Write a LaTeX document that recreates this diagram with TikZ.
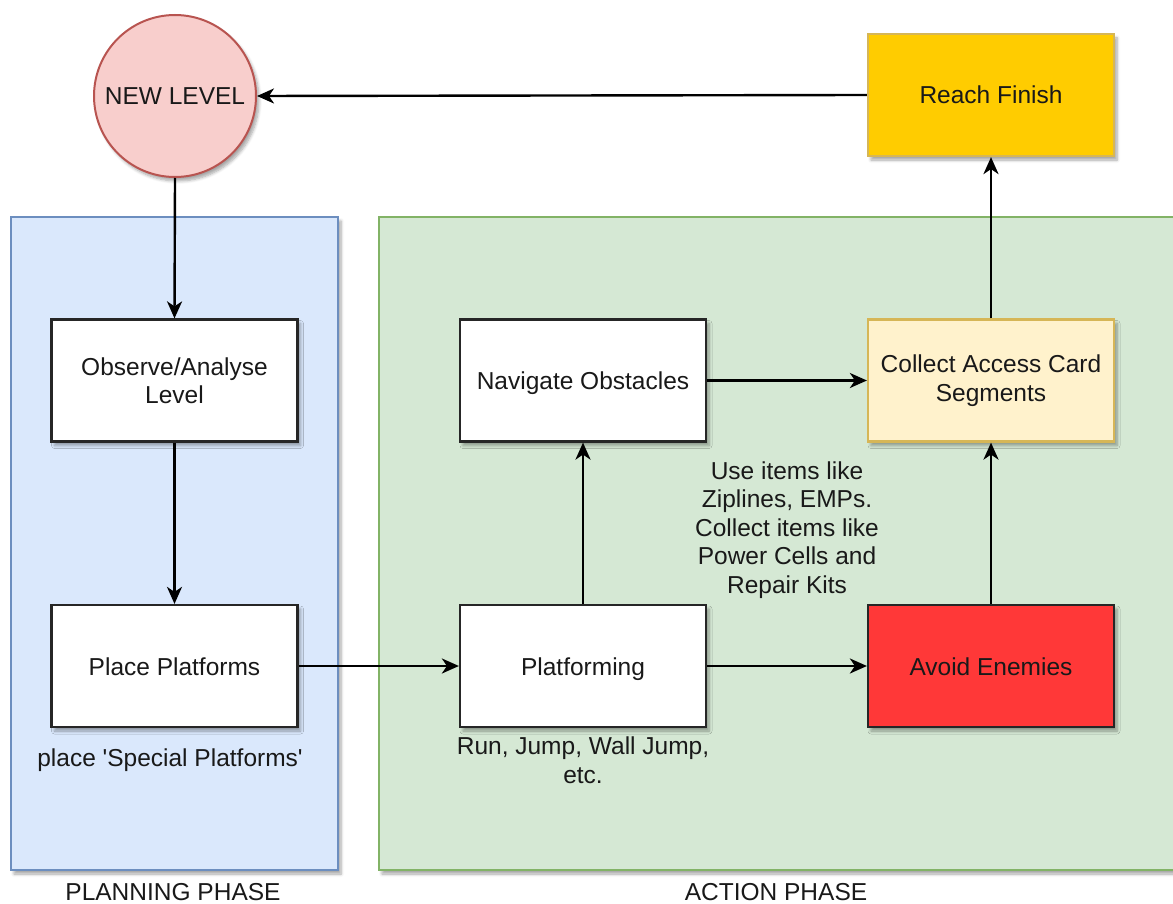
\documentclass[tikz,border=0pt]{standalone}
\usepackage{fontspec}
\setmainfont{Liberation Sans}
% same face without the TeX quote mapping, for straight apostrophes
\newfontfamily\straightquote{Liberation Sans}
\usetikzlibrary{arrows.meta,shadows.blur}

\definecolor{planfill}{HTML}{DAE8FC}
\definecolor{planline}{HTML}{6C8EBF}
\definecolor{actfill}{HTML}{D5E8D4}
\definecolor{actline}{HTML}{82B366}
\definecolor{startfill}{HTML}{F8CECC}
\definecolor{startline}{HTML}{B85450}
\definecolor{goldfill}{HTML}{FFCC00}
\definecolor{goldline}{HTML}{D6B656}
\definecolor{cardfill}{HTML}{FFF2CC}
\definecolor{enemyfill}{HTML}{FF3838}

\tikzset{
  shade/.style={blur shadow={shadow xshift=3pt, shadow yshift=-4pt,
      shadow opacity=35, shadow blur steps=6, shadow blur radius=3pt}},
  txt/.style={font=\fontsize{24.5}{28.5}\selectfont, align=center, text=black!90},
  oneline/.style={text height=18pt, text depth=0pt},
  stepbox/.style={txt, draw=black!85, line width=2.2pt, fill=white,
      minimum width=246pt, minimum height=122pt, inner sep=0pt, shade},
  region/.style={line width=2pt, shade},
  flow/.style={line width=2.4pt, draw=black,
      -{Stealth[length=17pt,width=15pt,inset=5pt]}},
}

\begin{document}
\begin{tikzpicture}[x=1pt,y=-1pt]
  \useasboundingbox (0,0) rectangle (1173,904);
  \clip (0,0) rectangle (1173,904);

  % phase backgrounds
  \draw[region, fill=planfill, draw=planline] (11,217) rectangle (338,870);
  \draw[region, fill=actfill, draw=actline] (379,217) rectangle (1190,870);

  % nodes
  \node[txt, oneline, circle, draw=startline, fill=startfill, line width=2pt,
        minimum size=162pt, inner sep=0pt, shade] (new) at (175,96) {NEW LEVEL};
  \node[stepbox, oneline, fill=goldfill, draw=goldline] (finish) at (991,95) {Reach Finish};
  \node[stepbox] (observe) at (174.5,380.5) {Observe/Analyse\\Level};
  \node[stepbox, oneline] (place) at (174.5,666) {Place Platforms};
  \node[stepbox, oneline] (navigate) at (583,380.5) {Navigate Obstacles};
  \node[stepbox, fill=cardfill, draw=goldline] (collect) at (991,380.5) {Collect Access Card\\Segments};
  \node[stepbox, oneline] (platforming) at (583,666) {Platforming};
  \node[stepbox, oneline, fill=enemyfill, draw=black!85] (avoid) at (991,666) {Avoid Enemies};

  % annotations
  \node[txt] (special) at (170,760) {place {\straightquote'}Special Platforms{\straightquote'}};
  \node[txt] (moves) at (583,760) {Run, Jump, Wall Jump,\\etc.};
  \node[txt] (items) at (787,530) {Use items like\\Ziplines, EMPs.\\Collect items like\\Power Cells and\\Repair Kits};
  \node[txt, oneline] (planlbl) at (173,891) {PLANNING PHASE};
  \node[txt, oneline] (actlbl) at (776,891) {ACTION PHASE};

  % flow
  \draw[flow] (finish.west) -- (new.east);
  \draw[flow] (new.south) -- (observe.north);
  \draw[flow] (observe.south) -- (place.north);
  \draw[flow] (place.east) -- (platforming.west);
  \draw[flow] (platforming.north) -- (navigate.south);
  \draw[flow] (navigate.east) -- (collect.west);
  \draw[flow] (platforming.east) -- (avoid.west);
  \draw[flow] (avoid.north) -- (collect.south);
  \draw[flow] (collect.north) -- (finish.south);
\end{tikzpicture}
\end{document}
